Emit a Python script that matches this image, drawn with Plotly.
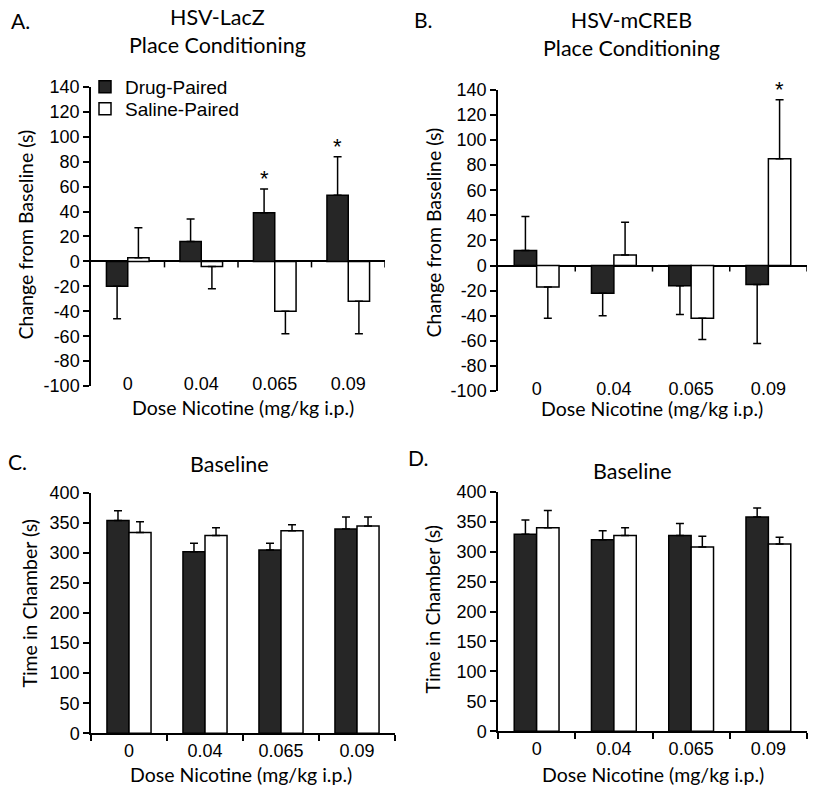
import plotly.graph_objects as go

W, H = 816, 789

doses = ["0", "0.04", "0.065", "0.09"]

# Panel A: HSV-LacZ place conditioning (change from baseline, s)
a_drug = [-20, 16, 39, 53]
a_drug_err = [26, 18, 19, 31]
a_sal = [3, -4, -40, -32]
a_sal_err = [24, 18, 18, 26]
a_drug_sig = [False, False, True, True]
a_sal_sig = [False, False, False, False]

# Panel B: HSV-mCREB place conditioning
b_drug = [12, -22, -16, -15]
b_drug_err = [27, 18, 23, 47]
b_sal = [-17, 8.5, -42, 85]
b_sal_err = [25, 26, 17, 47]
b_drug_sig = [False, False, False, False]
b_sal_sig = [False, False, False, True]

# Panel C: HSV-LacZ baseline (time in chamber, s)
c_drug = [354, 302, 305, 340]
c_drug_err = [16, 14, 11, 20]
c_sal = [334, 329, 337, 345]
c_sal_err = [18, 13, 10, 15]

# Panel D: HSV-mCREB baseline
d_drug = [329, 320, 327, 358]
d_drug_err = [24, 15, 20, 15]
d_sal = [340, 327, 308, 313]
d_sal_err = [29, 13, 18, 11]

change_ticks = list(range(-100, 141, 20))
baseline_ticks = list(range(0, 401, 50))

DRUG_COLOR = "#262626"
SAL_COLOR = "#ffffff"
TICK_FONT = dict(family="Liberation Sans, Arial", size=18, color="black")
LABEL_FONT = dict(family="Lato, Open Sans", size=19.5, color="black")
TITLE_FONT = dict(family="Lato, Open Sans", size=21.5, color="black")
LETTER_FONT = dict(family="Lato, Open Sans", size=21, color="black")
LEGEND_FONT = dict(family="Liberation Sans, Arial", size=19, color="black")

# the page photo is squeezed slightly in height; map target pixels to figure pixels
SQ, OFF = 0.977, 8.0


def fy(p):
    return (p - OFF) / SQ


def px_x(p):
    return p / W


def px_y(p):
    return 1 - fy(p) / H


def one_sided(vals, errs):
    up = [e if v >= 0 else 0 for v, e in zip(vals, errs)]
    dn = [e if v < 0 else 0 for v, e in zip(vals, errs)]
    return up, dn


fig = go.Figure()

panels = [
    dict(key="", drug=a_drug, de=a_drug_err, sal=a_sal, se=a_sal_err, legend=True),
    dict(key="2", drug=b_drug, de=b_drug_err, sal=b_sal, se=b_sal_err, legend=False),
    dict(key="3", drug=c_drug, de=c_drug_err, sal=c_sal, se=c_sal_err, legend=False),
    dict(key="4", drug=d_drug, de=d_drug_err, sal=d_sal, se=d_sal_err, legend=False),
]

for p in panels:
    for name, vals, errs, color, lg in [
        ("Drug-Paired", p["drug"], p["de"], DRUG_COLOR, "legend"),
        ("Saline-Paired", p["sal"], p["se"], SAL_COLOR, "legend2"),
    ]:
        up, dn = one_sided(vals, errs)
        fig.add_trace(go.Bar(
            x=doses, y=vals, name=name,
            xaxis="x" + p["key"], yaxis="y" + p["key"],
            marker=dict(color=color, line=dict(color="black", width=1.5)),
            error_y=dict(type="data", symmetric=False, array=up, arrayminus=dn,
                         color="black", thickness=1.5, width=4),
            offsetgroup=name, showlegend=p["legend"], legend=lg,
        ))

# panel domains in target pixels: (x0, x1, ytop, ybottom)
dom = {
    "": (91, 385, 85, 385),
    "2": (498, 807, 88, 390),
    "3": (91, 395, 492, 733),
    "4": (498, 807, 491, 731),
}

layout = dict(
    width=W, height=H, margin=dict(l=0, r=0, t=0, b=0),
    paper_bgcolor="white", plot_bgcolor="white",
    barmode="group", bargap=0.42, bargroupgap=0.0,
    showlegend=True,
    legend=dict(x=px_x(85), y=1 - (fy(87) - 2) / H, xanchor="left",
                yanchor="middle", font=LEGEND_FONT, bgcolor="rgba(0,0,0,0)"),
    legend2=dict(x=px_x(85), y=1 - (fy(109) - 2) / H, xanchor="left",
                 yanchor="middle", font=LEGEND_FONT, bgcolor="rgba(0,0,0,0)"),
)

for k, (x0, x1, yt, yb) in dom.items():
    diff = k in ("", "2")
    xa = dict(domain=[px_x(x0), px_x(x1)], type="category",
              range=[-0.5, len(doses) - 0.5], showgrid=False,
              tickfont=TICK_FONT, fixedrange=True)
    ya = dict(domain=[px_y(yb), px_y(yt)], anchor="x" + k, showgrid=False,
              showline=True, linecolor="black", linewidth=1.5,
              ticks="outside", ticklen=6, tickwidth=1.5, tickcolor="black",
              tickfont=TICK_FONT, tickmode="array")
    if diff:
        ya.update(range=[-100, 140], tickvals=change_ticks,
                  ticktext=[str(t) for t in change_ticks],
                  zeroline=True, zerolinecolor="black", zerolinewidth=1.5)
        xa.update(showline=False, ticks="", anchor="free",
                  position=1 - (fy(yb - 2) - 13.7) / H)
    else:
        ya.update(range=[0, 400], tickvals=baseline_ticks,
                  ticktext=[str(t) for t in baseline_ticks], zeroline=False)
        xa.update(showline=True, linecolor="black", linewidth=1.5,
                  ticks="outside", tickson="boundaries", ticklen=6,
                  tickwidth=1.5, tickcolor="black", anchor="y" + k)
    layout["xaxis" + k] = xa
    layout["yaxis" + k] = ya

fig.update_layout(**layout)

# tick marks on the zero line for the change-from-baseline panels
shapes = []
for k in ("", "2"):
    for i in range(len(doses)):
        shapes.append(dict(type="line", xref="x" + k, yref="y" + k,
                           x0=i + 0.5, x1=i + 0.5, ysizemode="pixel", yanchor=0,
                           y0=0, y1=-6, line=dict(color="black", width=1.5)))
fig.update_layout(shapes=shapes)

ann = []


def text(x, y, t, font, angle=0):
    ann.append(dict(x=px_x(x), y=px_y(y), xref="paper", yref="paper", text=t,
                    showarrow=False, font=font, textangle=angle,
                    xanchor="center", yanchor="middle"))


# panel letters
text(20, 19, "A.", LETTER_FONT)
text(423, 18, "B.", LETTER_FONT)
text(17, 461, "C.", LETTER_FONT)
text(418, 457, "D.", LETTER_FONT)
# panel titles
text(217, 29, "HSV-LacZ<br>Place Conditioning", TITLE_FONT)
text(631, 32, "HSV-mCREB<br>Place Conditioning", TITLE_FONT)
text(229, 463, "Baseline", TITLE_FONT)
text(632, 470, "Baseline", TITLE_FONT)
# axis titles
text(25, 233, "Change from Baseline (s)", LABEL_FONT, -90)
text(433, 231, "Change from Baseline (s)", LABEL_FONT, -90)
text(30, 603, "Time in Chamber (s)", LABEL_FONT, -90)
text(433, 609, "Time in Chamber (s)", LABEL_FONT, -90)
text(243, 406, "Dose Nicotine (mg/kg i.p.)", LABEL_FONT)
text(652, 407, "Dose Nicotine (mg/kg i.p.)", LABEL_FONT)
text(241, 774, "Dose Nicotine (mg/kg i.p.)", LABEL_FONT)
text(653, 774, "Dose Nicotine (mg/kg i.p.)", LABEL_FONT)

# significance asterisks
for k, sigs, vals, errs, shift in [
    ("", a_drug_sig, a_drug, a_drug_err, -10.5),
    ("", a_sal_sig, a_sal, a_sal_err, 10.5),
    ("2", b_drug_sig, b_drug, b_drug_err, -11),
    ("2", b_sal_sig, b_sal, b_sal_err, 11),
]:
    for i, (s, v, e) in enumerate(zip(sigs, vals, errs)):
        if s:
            ann.append(dict(x=i, y=v + e, xref="x" + k, yref="y" + k, text="*",
                            showarrow=False, xshift=shift, yshift=-4,
                            yanchor="bottom", xanchor="center",
                            font=dict(family="Liberation Sans, Arial", size=22,
                                      color="black")))

fig.update_layout(annotations=ann)

fig.write_html("out.html", config={"displayModeBar": False},
               post_script="document.body.style.margin='0';"
                           "document.body.style.overflow='hidden';")
